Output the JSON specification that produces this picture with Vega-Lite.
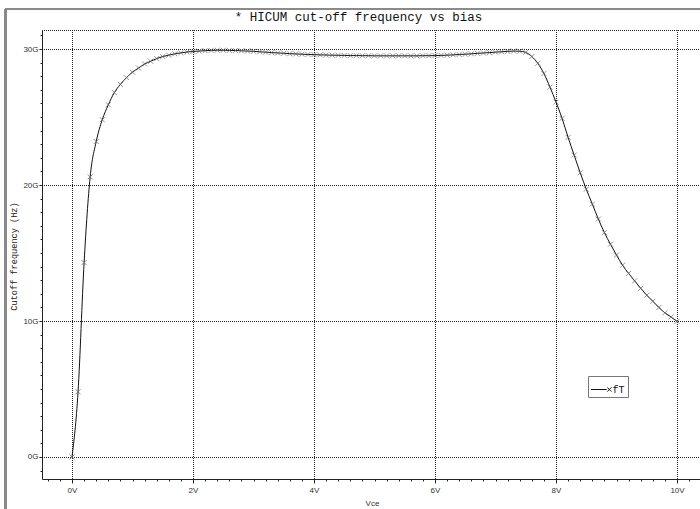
{
  "$schema": "https://vega.github.io/schema/vega-lite/v6.json",
  "width": 658,
  "height": 449,
  "autosize": "none",
  "padding": {"left": 42, "top": 30, "right": 0, "bottom": 30},
  "background": "white",
  "config": {
    "view": {"stroke": "#222", "strokeDash": [1, 1], "strokeDashOffset": 0.5, "strokeWidth": 1},
    "axis": {
      "domainColor": "#222",
      "tickColor": "#222",
      "labelColor": "#333",
      "labelFont": "Liberation Sans",
      "labelFontSize": 8,
      "gridColor": "#222",
      "gridDash": [1, 1],
      "gridDashOffset": 0.5,
      "gridWidth": 1
    }
  },
  "resolve": {"axis": {"x": "independent"}},
  "data": {
    "values": [
      {"v": 0.0, "f": 0.0}, {"v": 0.1, "f": 4.8}, {"v": 0.2, "f": 14.3}, {"v": 0.3, "f": 20.6},
      {"v": 0.4, "f": 23.2}, {"v": 0.5, "f": 24.8}, {"v": 0.6, "f": 25.9}, {"v": 0.7, "f": 26.8},
      {"v": 0.8, "f": 27.4}, {"v": 0.9, "f": 27.9}, {"v": 1.0, "f": 28.3}, {"v": 1.1, "f": 28.6},
      {"v": 1.2, "f": 28.9}, {"v": 1.3, "f": 29.1}, {"v": 1.4, "f": 29.3}, {"v": 1.5, "f": 29.45},
      {"v": 1.6, "f": 29.55}, {"v": 1.7, "f": 29.65}, {"v": 1.8, "f": 29.72}, {"v": 1.9, "f": 29.78},
      {"v": 2.0, "f": 29.82}, {"v": 2.1, "f": 29.85}, {"v": 2.2, "f": 29.88}, {"v": 2.3, "f": 29.9},
      {"v": 2.4, "f": 29.91}, {"v": 2.5, "f": 29.91}, {"v": 2.6, "f": 29.9}, {"v": 2.7, "f": 29.89},
      {"v": 2.8, "f": 29.87}, {"v": 2.9, "f": 29.85}, {"v": 3.0, "f": 29.83}, {"v": 3.1, "f": 29.8},
      {"v": 3.2, "f": 29.77}, {"v": 3.3, "f": 29.74}, {"v": 3.4, "f": 29.71}, {"v": 3.5, "f": 29.69},
      {"v": 3.6, "f": 29.66}, {"v": 3.7, "f": 29.64}, {"v": 3.8, "f": 29.62}, {"v": 3.9, "f": 29.6},
      {"v": 4.0, "f": 29.59}, {"v": 4.1, "f": 29.57}, {"v": 4.2, "f": 29.56}, {"v": 4.3, "f": 29.55},
      {"v": 4.4, "f": 29.54}, {"v": 4.5, "f": 29.53}, {"v": 4.6, "f": 29.52}, {"v": 4.7, "f": 29.52},
      {"v": 4.8, "f": 29.51}, {"v": 4.9, "f": 29.51}, {"v": 5.0, "f": 29.5}, {"v": 5.1, "f": 29.5},
      {"v": 5.2, "f": 29.5}, {"v": 5.3, "f": 29.5}, {"v": 5.4, "f": 29.5}, {"v": 5.5, "f": 29.5},
      {"v": 5.6, "f": 29.5}, {"v": 5.7, "f": 29.5}, {"v": 5.8, "f": 29.51}, {"v": 5.9, "f": 29.51},
      {"v": 6.0, "f": 29.52}, {"v": 6.1, "f": 29.53}, {"v": 6.2, "f": 29.55}, {"v": 6.3, "f": 29.57},
      {"v": 6.4, "f": 29.6}, {"v": 6.5, "f": 29.62}, {"v": 6.6, "f": 29.65}, {"v": 6.7, "f": 29.68},
      {"v": 6.8, "f": 29.71}, {"v": 6.9, "f": 29.74}, {"v": 7.0, "f": 29.77}, {"v": 7.1, "f": 29.8},
      {"v": 7.2, "f": 29.83}, {"v": 7.3, "f": 29.85}, {"v": 7.4, "f": 29.84}, {"v": 7.5, "f": 29.75},
      {"v": 7.6, "f": 29.45}, {"v": 7.7, "f": 28.95}, {"v": 7.8, "f": 28.2}, {"v": 7.9, "f": 27.2},
      {"v": 8.0, "f": 26.1}, {"v": 8.1, "f": 24.9}, {"v": 8.2, "f": 23.5}, {"v": 8.3, "f": 22.2},
      {"v": 8.4, "f": 20.9}, {"v": 8.5, "f": 19.7}, {"v": 8.6, "f": 18.6}, {"v": 8.7, "f": 17.5},
      {"v": 8.8, "f": 16.5}, {"v": 8.9, "f": 15.65}, {"v": 9.0, "f": 14.85}, {"v": 9.1, "f": 14.1},
      {"v": 9.2, "f": 13.5}, {"v": 9.3, "f": 12.95}, {"v": 9.4, "f": 12.4}, {"v": 9.5, "f": 11.9},
      {"v": 9.6, "f": 11.45}, {"v": 9.7, "f": 11.0}, {"v": 9.8, "f": 10.6}, {"v": 9.9, "f": 10.3},
      {"v": 10.0, "f": 9.97}
    ]
  },
  "encoding": {
    "x": {
      "field": "v",
      "type": "quantitative",
      "scale": {"domain": [-0.496, 10.38], "nice": false, "zero": false},
      "axis": {
        "title": "Vce",
        "titleFont": "Liberation Sans",
        "titleFontSize": 8,
        "titleFontWeight": "normal",
        "titleColor": "#333",
        "titleX": 330,
        "titleY": 24,
        "titleBaseline": "middle",
        "values": [-0.4, -0.2, 0, 0.2, 0.4, 0.6, 0.8, 1, 1.2, 1.4, 1.6, 1.8, 2, 2.2, 2.4, 2.6, 2.8, 3, 3.2, 3.4, 3.6, 3.8, 4, 4.2, 4.4, 4.6, 4.8, 5, 5.2, 5.4, 5.6, 5.8, 6, 6.2, 6.4, 6.6, 6.8, 7, 7.2, 7.4, 7.6, 7.8, 8, 8.2, 8.4, 8.6, 8.8, 9, 9.2, 9.4, 9.6, 9.8, 10, 10.2],
        "labelExpr": "datum.value % 2 === 0 ? datum.value + 'V' : ''",
        "tickSize": {"condition": {"test": "datum.value % 2 === 0", "value": 4}, "value": 2},
        "gridOpacity": {"condition": {"test": "datum.value % 2 === 0", "value": 1}, "value": 0},
        "gridDash": [1, 1],
        "gridDashOffset": 0.5,
        "gridColor": "#222",
        "labelPadding": 3,
        "labelFlush": false,
        "labelOverlap": false
      }
    },
    "y": {
      "field": "f",
      "type": "quantitative",
      "scale": {"domain": [-1.618, 31.4], "nice": false, "zero": false},
      "axis": {
        "title": "Cutoff frequency (Hz)",
        "titleFont": "Liberation Mono",
        "titleFontSize": 8.6,
        "titleFontWeight": "normal",
        "titleColor": "#222",
        "titleAngle": 270,
        "titleX": -29,
        "titleY": 226,
        "titleBaseline": "middle",
        "titleAlign": "center",
        "values": [-1, 0, 1, 2, 3, 4, 5, 6, 7, 8, 9, 10, 11, 12, 13, 14, 15, 16, 17, 18, 19, 20, 21, 22, 23, 24, 25, 26, 27, 28, 29, 30, 31],
        "labelExpr": "datum.value % 10 === 0 ? datum.value + 'G' : ''",
        "tickSize": {"condition": {"test": "datum.value % 10 === 0", "value": 3}, "value": 2},
        "gridOpacity": {"condition": {"test": "datum.value % 10 === 0", "value": 1}, "value": 0},
        "gridDash": [1, 1],
        "gridDashOffset": 0.5,
        "gridColor": "#222",
        "labelPadding": 1,
        "labelOverlap": false
      }
    }
  },
  "layer": [
    {
      "mark": {"type": "line", "strokeWidth": 1, "interpolate": "monotone"},
      "encoding": {
        "color": {
          "datum": "fT",
          "type": "nominal",
          "scale": {"range": ["#111"]},
          "legend": {
            "title": null,
            "orient": "none",
            "legendX": 546,
            "legendY": 346,
            "strokeColor": "#777",
            "padding": 2.5,
            "symbolType": "M-1,0H0.5M0.55,-0.2L0.95,0.2M0.55,0.2L0.95,-0.2",
            "symbolSize": 441,
            "symbolStrokeWidth": 1,
            "symbolFillColor": "transparent",
            "symbolStrokeColor": "#111",
            "labelFont": "Liberation Mono",
            "labelFontSize": 10,
            "labelColor": "#111",
            "labelOffset": 0
          }
        }
      }
    },
    {
      "mark": {"type": "point", "shape": "M-1,-1L1,1M-1,1L1,-1", "size": 25, "filled": false, "stroke": "#666", "strokeWidth": 1},
      "encoding": {
        "x": {"field": "v", "type": "quantitative", "axis": null}
      }
    },
    {
      "mark": {"type": "rule", "stroke": "#8a8a8a", "strokeWidth": 2, "clip": false},
      "encoding": {
        "x": {"datum": -1.1, "type": "quantitative", "axis": null},
        "y": {"datum": 32.94, "type": "quantitative"},
        "y2": {"datum": -6}
      }
    },
    {
      "mark": {"type": "rule", "stroke": "#8a8a8a", "strokeWidth": 2, "clip": false},
      "encoding": {
        "y": {"datum": 32.94, "type": "quantitative"},
        "x": {
          "datum": -1.1,
          "type": "quantitative",
          "axis": {
            "orient": "top",
            "title": "* HICUM cut-off frequency vs bias",
            "titleFont": "Liberation Mono",
            "titleFontSize": 12.5,
            "titleFontWeight": "normal",
            "titleColor": "#111",
            "titleX": 316,
            "titleY": -9.5,
            "titleBaseline": "alphabetic",
            "titleAlign": "center",
            "domain": false,
            "ticks": false,
            "labels": false,
            "grid": false
          }
        },
        "x2": {"datum": 12}
      }
    }
  ]
}
